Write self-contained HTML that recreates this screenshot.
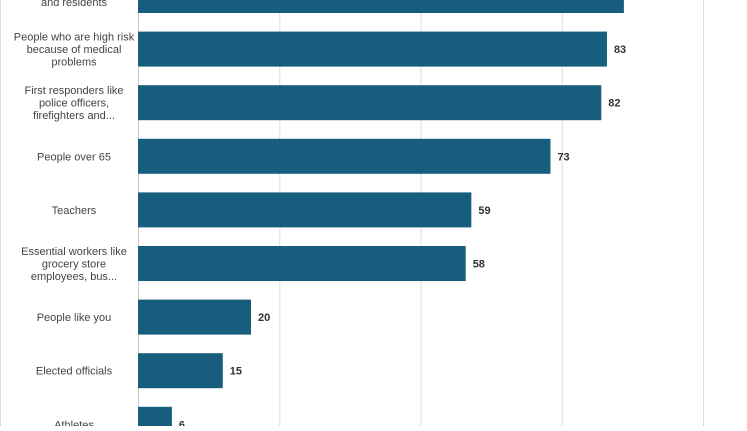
<!DOCTYPE html>
<html><head><meta charset="utf-8"><style>
body{margin:0;width:747px;height:426px;overflow:hidden;background:#fff;font-family:"Liberation Sans",sans-serif}
</style></head><body>
<svg width="747" height="426">
<line x1="0.5" y1="0" x2="0.5" y2="426" stroke="#ddd"/>
<g id="grid"></g><g id="bars"></g>
</svg>
<script>
const categories=[["Nursing home staff","and residents"],["People who are high risk","because of medical","problems"],["First responders like","police officers,","firefighters and..."],["People over 65"],["Teachers"],["Essential workers like","grocery store","employees, bus..."],["People like you"],["Elected officials"],["Athletes"]];
const values=[86,83,82,73,59,58,20,15,6];
const gridTicks=[0,25,50,75,100];
const ns="http://www.w3.org/2000/svg";
const x=v=>138+v*5.65;
const yc=i=>-4.5+i*53.6;
const bh=35;
const grid=document.getElementById('grid'),bars=document.getElementById('bars');
gridTicks.forEach(t=>{const l=document.createElementNS(ns,'line');


l.setAttribute('x1',x(t)+0.5);l.setAttribute('x2',x(t)+0.5);l.setAttribute('y1',0);l.setAttribute('y2',426);
l.setAttribute('stroke',t===0?'#ccc':'#ddd');grid.appendChild(l);});
values.forEach((v,i)=>{
const r=document.createElementNS(ns,'rect');


r.setAttribute('x',x(0));r.setAttribute('y',yc(i)-bh/2);r.setAttribute('width',x(v)-x(0));r.setAttribute('height',bh);r.setAttribute('fill','#175d7d');bars.appendChild(r);
const t=document.createElementNS(ns,'text');


t.setAttribute('x',x(v)+7);t.setAttribute('y',yc(i)+4);t.setAttribute('font-size','11');t.setAttribute('font-weight','bold');t.setAttribute('fill','#333');t.textContent=v;bars.appendChild(t);
const lines=categories[i];
lines.forEach((s,k)=>{const c=document.createElementNS(ns,'text');


c.setAttribute('x',74);c.setAttribute('text-anchor','middle');
c.setAttribute('y',yc(i)+(k-(lines.length-1)/2)*12.5+4);c.setAttribute('font-size','11');c.setAttribute('fill','#444');c.textContent=s;bars.appendChild(c);});
});
</script>
</body></html>
